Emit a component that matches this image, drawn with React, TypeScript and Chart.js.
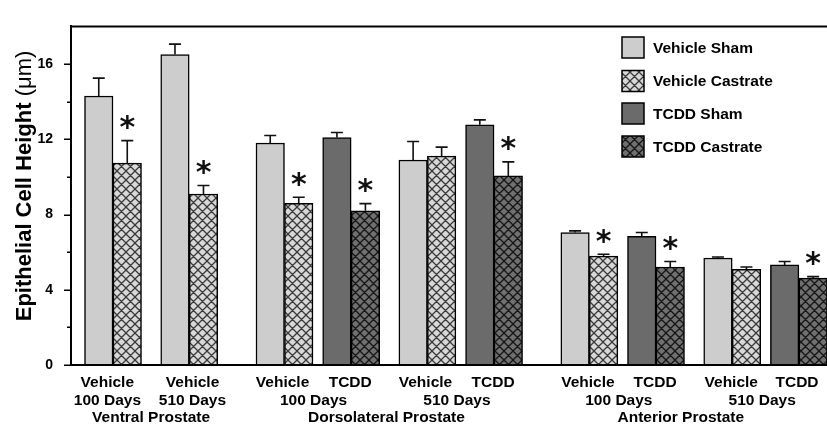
import React, { useEffect, useRef } from 'react';
import { Chart, registerables } from 'chart.js';

Chart.register(...registerables);

// ---- data ----
const vehicleSlots = [0, 8, 18, 33, 50, 65];
const tcddSlots = [25, 40, 57, 72];

const vehicleSham = [14.3, 16.5, 11.8, 10.9, 7.04, 5.69];
const vehicleShamErr = [0.95, 0.56, 0.4, 0.98, 0.09, 0.05];
const vehicleCastrate = [10.73, 9.09, 8.6, 11.1, 5.79, 5.09];
const vehicleCastrateErr = [1.2, 0.45, 0.32, 0.48, 0.1, 0.12];
const vehicleCastrateSig = [true, true, true, false, true, false];

const tcddSham = [12.09, 12.77, 6.84, 5.32];
const tcddShamErr = [0.27, 0.26, 0.2, 0.18];
const tcddCastrate = [8.2, 10.05, 5.21, 4.62];
const tcddCastrateErr = [0.38, 0.75, 0.29, 0.08];
const tcddCastrateSig = [true, true, true, true];

const treatmentLabels = ['Vehicle', 'Vehicle', 'Vehicle', 'TCDD', 'Vehicle', 'TCDD', 'Vehicle', 'TCDD', 'Vehicle', 'TCDD'];
const treatmentLabelSlots = [-0.6, 8.35, 17.8, 24.9, 32.8, 39.9, 49.85, 56.9, 64.9, 71.8];
const dayLabels = ['100 Days', '510 Days', '100 Days', '510 Days', '100 Days', '510 Days'];
const dayLabelSlots = [-0.58, 8.34, 21.05, 36.1, 53.1, 68.15];
const groupLabels = ['Ventral Prostate', 'Dorsolateral Prostate', 'Anterior Prostate'];
const groupLabelSlots = [4, 28.7, 59.6];

const seriesNames = ['Vehicle Sham', 'Vehicle Castrate', 'TCDD Sham', 'TCDD Castrate'];
const yMajorTicks = [0, 4, 8, 12, 16];
const yMinorTicks = [2, 6, 10, 14];
const yTitleBold = 'Epithelial Cell Height ';
const yTitleUnit = '(\u03bcm)';

const FONT = '"Liberation Sans", Arial, Helvetica, sans-serif';

function makeHatch(ctx: CanvasRenderingContext2D, bg: string, fg: string): CanvasPattern {
  const s = 9;
  const c = document.createElement('canvas');
  c.width = s;
  c.height = s;
  const g = c.getContext('2d') as CanvasRenderingContext2D;
  g.fillStyle = bg;
  g.fillRect(0, 0, s, s);
  g.strokeStyle = fg;
  g.lineWidth = 1.3;
  g.beginPath();
  for (const o of [-s, 0, s]) {
    g.moveTo(o, 0);
    g.lineTo(o + s, s);
    g.moveTo(o, s);
    g.lineTo(o + s, 0);
  }
  g.stroke();
  return ctx.createPattern(c, 'repeat') as CanvasPattern;
}

export default function App() {
  const canvasRef = useRef<HTMLCanvasElement | null>(null);

  useEffect(() => {
    const canvas = canvasRef.current;
    if (!canvas) return;
    const ctx0 = canvas.getContext('2d') as CanvasRenderingContext2D;
    const lightFill = '#cdcdcd';
    const darkFill = '#6b6b6b';
    const lightHatch = makeHatch(ctx0, '#d8d8d8', '#3a3a3a');
    const darkHatch = makeHatch(ctx0, '#707070', '#151515');
    const fills = [lightFill, lightHatch, darkFill, darkHatch];

    const errs = [vehicleShamErr, vehicleCastrateErr, tcddShamErr, tcddCastrateErr];
    const sigs: (boolean[] | null)[] = [null, vehicleCastrateSig, null, tcddCastrateSig];

    const decor = {
      id: 'decor',
      afterDatasetsDraw(chart: any) {
        const ctx = chart.ctx as CanvasRenderingContext2D;
        const yScale = chart.scales.y;
        const { chartArea } = chart;
        ctx.save();
        chart.data.datasets.forEach((ds: any, di: number) => {
          const meta = chart.getDatasetMeta(di);
          meta.data.forEach((el: any, i: number) => {
            const v = ds.data[i].y;
            const e = errs[di][i];
            const yTop = yScale.getPixelForValue(v);
            const yErr = yScale.getPixelForValue(v + e);
            ctx.strokeStyle = '#111';
            ctx.lineWidth = 1.6;
            ctx.beginPath();
            ctx.moveTo(el.x, yTop);
            ctx.lineTo(el.x, yErr);
            ctx.moveTo(el.x - 6, yErr);
            ctx.lineTo(el.x + 6, yErr);
            ctx.stroke();
            const sg = sigs[di];
            if (sg && sg[i]) {
              ctx.fillStyle = '#111';
              ctx.font = `bold 30px "DejaVu Sans", sans-serif`;
              ctx.textAlign = 'center';
              ctx.textBaseline = 'alphabetic';
              const cy = yErr - 21;
              ctx.fillText('*', el.x, cy + 0.585 * 30);
            }
          });
        });
        // redraw x axis line over bar bottoms
        ctx.strokeStyle = '#000';
        ctx.lineWidth = 2;
        ctx.beginPath();
        ctx.moveTo(chartArea.left - 1, chartArea.bottom);
        ctx.lineTo(chartArea.right, chartArea.bottom);
        ctx.stroke();
        ctx.restore();
      },
      afterDraw(chart: any) {
        const ctx = chart.ctx as CanvasRenderingContext2D;
        const { chartArea } = chart;
        const xs = chart.scales.x;
        const ys = chart.scales.y;
        ctx.save();
        // top frame line
        ctx.strokeStyle = '#000';
        ctx.lineWidth = 2;
        ctx.beginPath();
        ctx.moveTo(chartArea.left - 1, chartArea.top);
        ctx.lineTo(chartArea.right, chartArea.top);
        ctx.stroke();
        // y ticks
        ctx.lineWidth = 1.5;
        ctx.beginPath();
        yMajorTicks.forEach((t) => {
          const p = Math.round(ys.getPixelForValue(t)) + 0.25;
          ctx.moveTo(chartArea.left - 7, p);
          ctx.lineTo(chartArea.left, p);
        });
        yMinorTicks.forEach((t) => {
          const p = Math.round(ys.getPixelForValue(t)) + 0.25;
          ctx.moveTo(chartArea.left - 4, p);
          ctx.lineTo(chartArea.left, p);
        });
        ctx.stroke();
        // y title
        ctx.fillStyle = '#000';
        ctx.translate(31, 186);
        ctx.rotate(-Math.PI / 2);
        ctx.textBaseline = 'alphabetic';
        ctx.textAlign = 'left';
        ctx.font = `bold 22px ${FONT}`;
        const w1 = ctx.measureText(yTitleBold).width;
        ctx.font = `22px ${FONT}`;
        const w2 = ctx.measureText(yTitleUnit).width;
        const start = -(w1 + w2) / 2;
        ctx.font = `bold 22px ${FONT}`;
        ctx.fillText(yTitleBold, start, 0);
        ctx.font = `22px ${FONT}`;
        ctx.fillText(yTitleUnit, start + w1, 0);
        ctx.setTransform(1, 0, 0, 1, 0, 0);
        // x labels
        ctx.fillStyle = '#000';
        ctx.textAlign = 'center';
        ctx.textBaseline = 'alphabetic';
        ctx.font = `bold 15.5px ${FONT}`;
        treatmentLabels.forEach((t, i) => ctx.fillText(t, xs.getPixelForValue(treatmentLabelSlots[i]), 387));
        dayLabels.forEach((t, i) => ctx.fillText(t, xs.getPixelForValue(dayLabelSlots[i]), 405));
        groupLabels.forEach((t, i) => ctx.fillText(t, xs.getPixelForValue(groupLabelSlots[i]), 422));
        // legend
        const legY = [47.5, 81, 113.5, 146.5];
        seriesNames.forEach((name, i) => {
          ctx.fillStyle = fills[i] as any;
          ctx.fillRect(622, legY[i] - 10.5, 22, 21);
          ctx.strokeStyle = '#000';
          ctx.lineWidth = 1.5;
          ctx.strokeRect(622, legY[i] - 10.5, 22, 21);
          ctx.fillStyle = '#000';
          ctx.textAlign = 'left';
          ctx.textBaseline = 'middle';
          ctx.font = `bold 15.5px ${FONT}`;
          ctx.fillText(name, 653, legY[i] + 1);
        });
        ctx.restore();
      },
    };

    const mk = (slots: number[], vals: number[]) => slots.map((x, i) => ({ x, y: vals[i] }));

    const chart = new Chart(canvas, {
      type: 'bar',
      data: {
        datasets: [
          { label: seriesNames[0], data: mk(vehicleSlots, vehicleSham), backgroundColor: fills[0], stack: 'sham' },
          { label: seriesNames[1], data: mk(vehicleSlots, vehicleCastrate), backgroundColor: fills[1], stack: 'castrate' },
          { label: seriesNames[2], data: mk(tcddSlots, tcddSham), backgroundColor: fills[2], stack: 'sham' },
          { label: seriesNames[3], data: mk(tcddSlots, tcddCastrate), backgroundColor: fills[3], stack: 'castrate' },
        ] as any,
      },
      options: {
        responsive: false,
        animation: false,
        layout: { padding: { top: 13, left: 0, right: 0, bottom: 0 } },
        datasets: {
          bar: { barThickness: 28.5, borderColor: '#000', borderWidth: 1.5 } as any,
        },
        scales: {
          x: {
            type: 'linear',
            offset: false,
            min: -4.41,
            max: 74.95,
            stacked: true,
            ticks: { display: false },
            grid: { display: false, drawTicks: false },
            border: { display: true, color: '#000', width: 2 },
            afterFit: (s: any) => { s.height = 60; },
          } as any,
          y: {
            min: 0,
            max: 18,
            stacked: false,
            ticks: {
              stepSize: 4,
              color: '#000',
              padding: 18,
              font: { family: FONT, size: 14, weight: 'bold' },
              callback: (v: any) => (yMajorTicks.includes(Number(v)) ? String(v) : ''),
            },
            grid: { display: false, drawTicks: false },
            border: { display: true, color: '#000', width: 2 },
            afterFit: (s: any) => { s.width = 71; },
          } as any,
        },
        plugins: { legend: { display: false }, tooltip: { enabled: false } },
      },
      plugins: [decor as any],
    });

    return () => chart.destroy();
  }, []);

  return (
    <div style={{ position: 'fixed', left: 0, top: 0, width: 827, height: 425, background: '#fff' }}>
      <canvas ref={canvasRef} width={827} height={425} style={{ display: 'block' }} />
    </div>
  );
}
